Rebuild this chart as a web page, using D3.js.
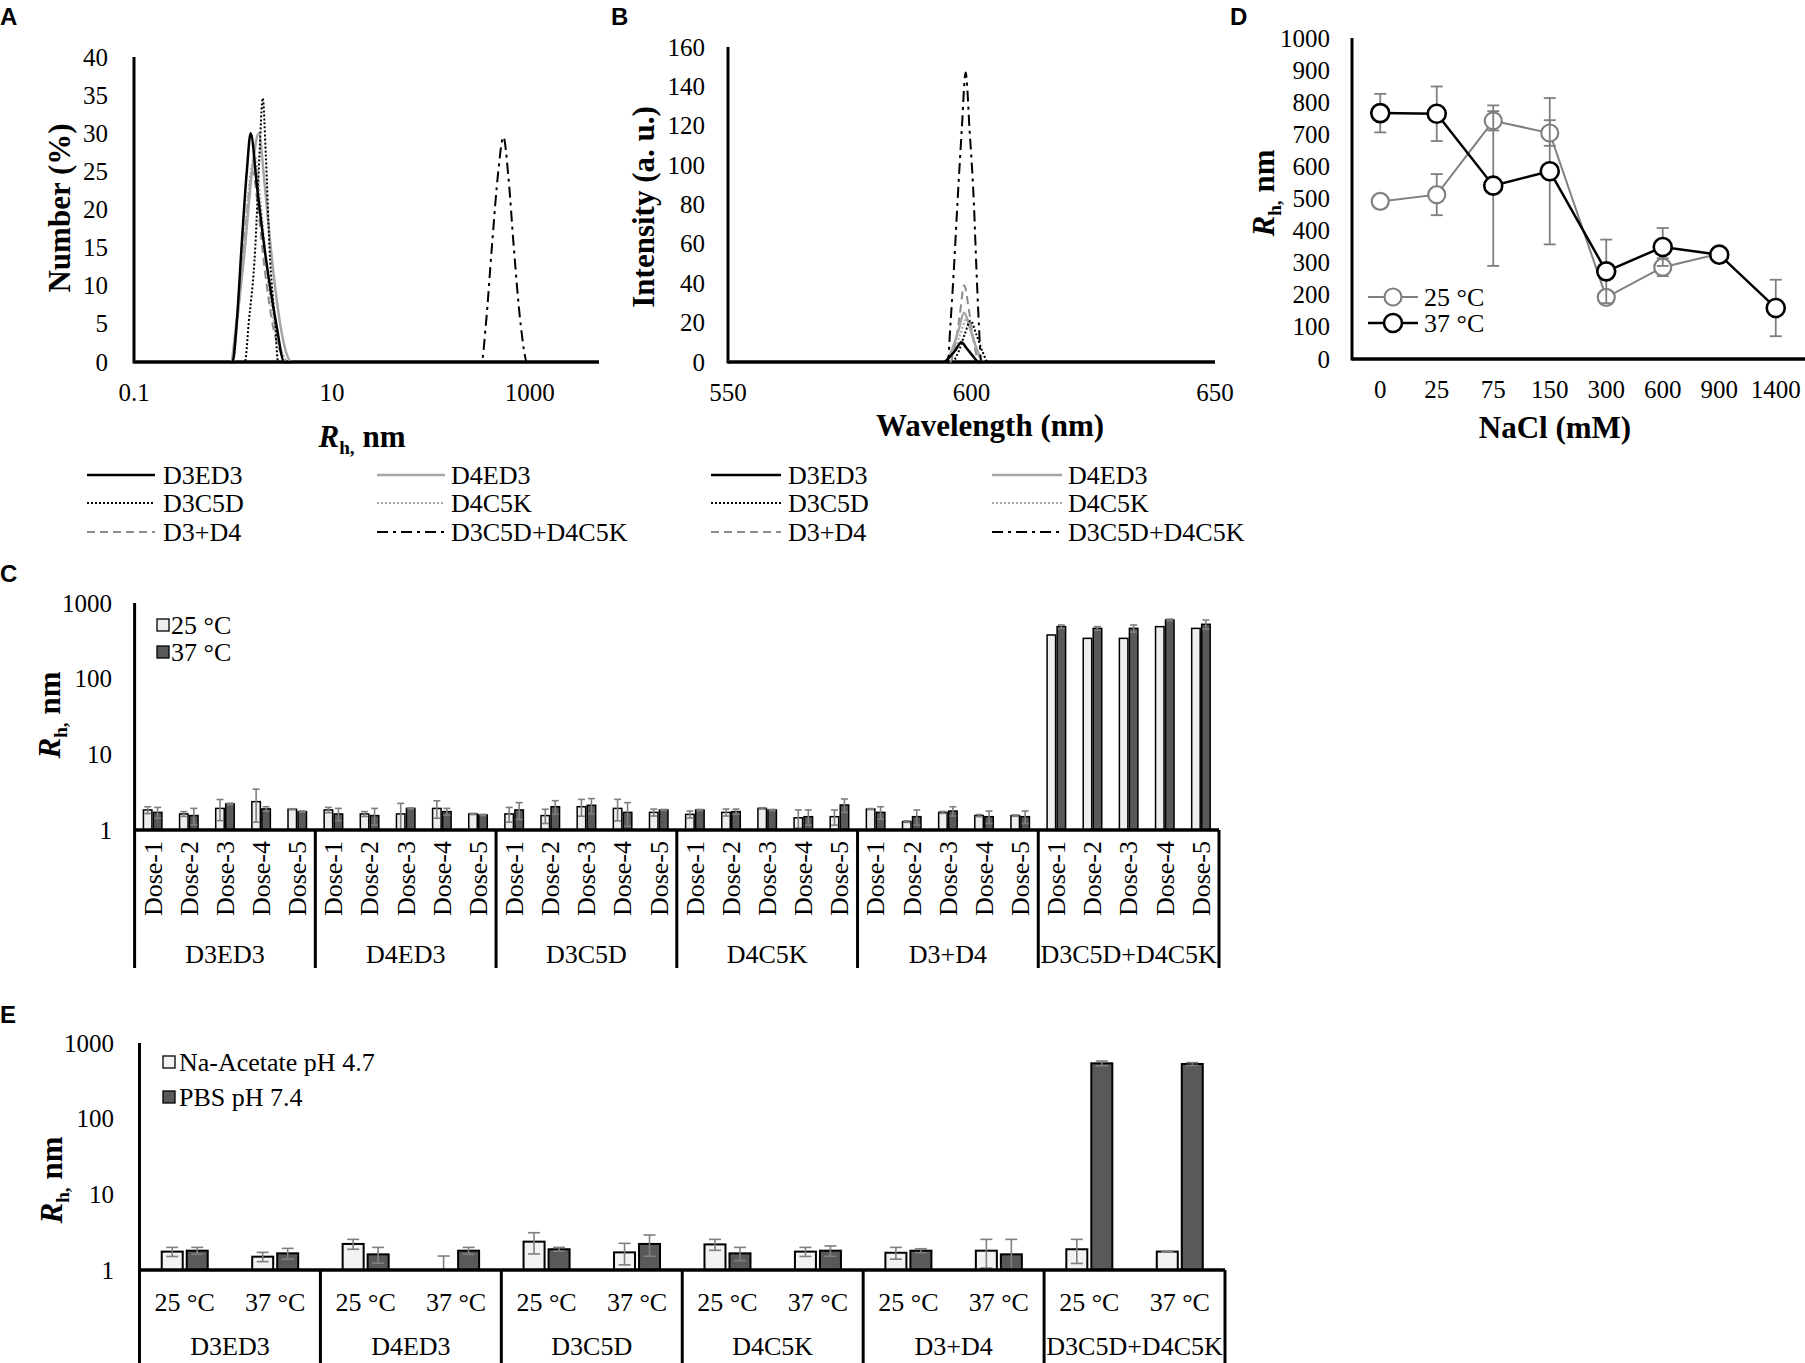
<!DOCTYPE html>
<html><head><meta charset="utf-8">
<script src="https://cdn.jsdelivr.net/npm/d3@7"></script>
<style>
body{margin:0;background:#fff}
svg{display:block}
</style>
</head><body>
<svg id="fig" width="1805" height="1363"></svg>
<script>
// ================= DATA =================
const seriesNames = ["D3ED3","D4ED3","D3C5D","D4C5K","D3+D4","D3C5D+D4C5K"];

// Panel A: number distribution, [Rh (nm), Number (%)]
const aD3ED3 = [[0.1,0],[0.99,0],[1.09,5],[1.22,15],[1.38,25],[1.51,30],[1.75,23],[2.08,15],[2.74,5],[3.3,0],[5000,0]];
const aD4ED3 = [[0.1,0],[0.95,0],[1.08,5],[1.3,14],[1.56,25],[1.82,30],[2.1,23],[2.5,13],[3.0,5],[3.5,1],[3.9,0],[5000,0]];
const aD3C5D = [[0.1,0],[1.32,0],[1.44,5],[1.68,15],[1.85,27],[2.0,34.6],[2.15,27],[2.34,15],[2.67,5],[2.86,0],[5000,0]];
const aD4C5K = [[0.1,0],[1.0,0],[1.12,6],[1.3,16],[1.48,24],[1.66,27],[1.9,21],[2.2,12],[2.7,4],[3.2,1],[3.6,0],[5000,0]];
const aD3D4  = [[0.1,0],[0.97,0],[1.1,5],[1.25,13],[1.42,21],[1.58,25],[1.8,20],[2.1,12],[2.6,4],[3.1,1],[3.5,0],[5000,0]];
const aMix   = [[0.1,0],[325,0],[360,5],[413,15],[480,25],[540,29.5],[610,24],[689,15],[807,5],[940,0],[5000,0]];

// Panel B: fluorescence, [Wavelength (nm), Intensity (a.u.)]
const bD3ED3 = [[550,0],[594.3,0],[595.5,2.5],[596.7,6],[597.9,10],[599,7],[600.3,3],[601.5,0],[650,0]];
const bD4ED3 = [[550,0],[594.6,0],[595.8,5],[597.2,15],[598.5,25],[599.7,17],[601,7],[602.4,0],[650,0]];
const bD3C5D = [[550,0],[596,0],[597.3,5],[598.6,14],[599.8,21],[601,14],[602.3,5],[603.4,0],[650,0]];
const bD4C5K = [[550,0],[595,0],[596.3,5],[597.7,14],[599,22],[600.2,14],[601.4,5],[602.5,0],[650,0]];
const bD3D4  = [[550,0],[595.6,0],[596.6,8],[597.6,24],[598.5,39],[599.5,26],[600.5,10],[601.5,0],[650,0]];
const bMix   = [[550,0],[595.1,0],[595.7,20],[596.4,48],[597.1,80],[598,118],[598.8,147],[599.6,118],[600.5,80],[601,48],[601.5,20],[602,0],[650,0]];

const aTicksY = [0,5,10,15,20,25,30,35,40];
const aTicksX = [0.1,10,1000];
const bTicksY = [0,20,40,60,80,100,120,140,160];
const bTicksX = [550,600,650];

// Panel C: Rh vs dose (log scale)
const cGroups = ["D3ED3","D4ED3","D3C5D","D4C5K","D3+D4","D3C5D+D4C5K"];
const cDoses = ["Dose-1","Dose-2","Dose-3","Dose-4","Dose-5"];
const c25    = [[1.84,1.63,1.93,2.37,1.88],[1.84,1.63,1.63,1.93,1.63],[1.63,1.55,2.03,1.93,1.71],[1.61,1.71,1.93,1.45,1.50],[1.89,1.29,1.71,1.55,1.55],[378,341,341,487,462]];
const c25err = [[0.19,0.12,0.6,1.1,0.03],[0.15,0.12,0.62,0.5,0.03],[0.36,0.33,0.51,0.61,0.18],[0.17,0.18,0.04,0.39,0.34],[0.03,0.03,0.05,0.05,0.03],[0,0,0,0,0]];
const c37    = [[1.71,1.55,2.21,1.90,1.75],[1.63,1.55,1.93,1.75,1.58],[1.84,2.03,2.12,1.71,1.84],[1.84,1.75,1.84,1.50,2.14],[1.71,1.50,1.78,1.50,1.50],[487,462,462,596,523]];
const c37err = [[0.28,0.38,0.05,0.13,0.03],[0.30,0.38,0.03,0.18,0.03],[0.46,0.41,0.48,0.59,0.03],[0.03,0.14,0.03,0.34,0.43],[0.32,0.34,0.25,0.28,0.28],[25,25,50,17,73]];
const logTicks = [1,10,100,1000];

// Panel D: Rh vs NaCl
const dCats  = ["0","25","75","150","300","600","900","1400"];
const d25    = [491,512,742,704,192,286,328,null];
const d25err = [10,64,30,40,15,28,12,null];
const d37    = [766,764,540,585,273,349,325,159];
const d37err = [60,85,250,228,99,59,10,88];
const dTicksY = [0,100,200,300,400,500,600,700,800,900,1000];

// Panel E: Rh vs buffer
const eGroups = ["D3ED3","D4ED3","D3C5D","D4C5K","D3+D4","D3C5D+D4C5K"];
const eTemps  = ["25 °C","37 °C"];
const eAcetate    = [[1.75,1.50],[2.21,1.0],[2.37,1.71],[2.18,1.75],[1.69,1.80],[1.88,1.75]];
const eAcetateErr = [[0.24,0.21],[0.33,0.53],[0.74,0.54],[0.36,0.24],[0.30,0.74],[0.66,0.02]];
const ePBS        = [[1.80,1.66],[1.61,1.80],[1.88,2.21],[1.66,1.80],[1.80,1.61],[539,528]];
const ePBSErr     = [[0.19,0.27],[0.38,0.19],[0.11,0.69],[0.33,0.28],[0.11,0.93],[39,23]];

// ================= DRAWING =================
const SERIF = '"Liberation Serif","Times New Roman",serif';
const SANS = '"Liberation Sans",Arial,sans-serif';
const svg = d3.select("#fig");
svg.append("rect").attr("width",1805).attr("height",1363).attr("fill","#fff");

const TICK = 25, LEG = 26, TITLE = 31;
const styles = {
  "D3ED3":      {stroke:"#000",   w:2.5, dash:null},
  "D4ED3":      {stroke:"#a6a6a6",w:2.5, dash:null},
  "D3C5D":      {stroke:"#000",   w:2,   dash:"2,2"},
  "D4C5K":      {stroke:"#a6a6a6",w:2,   dash:"2,2"},
  "D3+D4":      {stroke:"#8c8c8c",w:2,   dash:"8,5"},
  "D3C5D+D4C5K":{stroke:"#000",   w:2,   dash:"11,5,3,5"}
};

function txt(x,y,s,opts={}){
  const t = svg.append("text").attr("x",x).attr("y",y)
    .attr("font-family",opts.family||SERIF).attr("font-size",opts.size||TICK)
    .attr("text-anchor",opts.anchor||"start").attr("fill","#000").text(s);
  if(opts.bold) t.attr("font-weight","bold");
  return t;
}
function letter(s,x,y){ txt(x,y,s,{family:SANS,size:24,bold:true}); }
function line(x1,y1,x2,y2,w,c){ svg.append("line").attr("x1",x1).attr("y1",y1).attr("x2",x2).attr("y2",y2).attr("stroke",c||"#000").attr("stroke-width",w); }

// title with R_h, nm
function rhText(t){
  const fs = TITLE;
  t.append("tspan").attr("font-style","italic").text("R");
  t.append("tspan").attr("font-size",fs*0.62).attr("dy",fs*0.22).text("h,");
  t.append("tspan").attr("dy",-fs*0.22).text(" nm");
}
function rhTitleH(cx,base){
  const t = svg.append("text").attr("x",cx).attr("y",base).attr("text-anchor","middle")
    .attr("font-family",SERIF).attr("font-size",TITLE).attr("font-weight","bold");
  rhText(t);
}
function rotTitle(cx,cy,str){
  const t = svg.append("text").attr("transform",`translate(${cx},${cy}) rotate(-90)`)
    .attr("x",0).attr("y",TITLE*0.35).attr("text-anchor","middle")
    .attr("font-family",SERIF).attr("font-size",TITLE).attr("font-weight","bold");
  if(str) t.text(str); else rhText(t);
}

// ---------- Panel A ----------
letter("A",0,25);
const xA = d3.scaleLog().domain([0.1,5000]).range([134,599]);
const yA = d3.scaleLinear().domain([0,40]).range([362,57]);
aTicksY.forEach(v=>txt(108,yA(v)+TICK*0.34,v,{anchor:"end"}));
aTicksX.forEach(v=>txt(xA(v),401,v,{anchor:"middle"}));
const aData = {"D3ED3":aD3ED3,"D4ED3":aD4ED3,"D3C5D":aD3C5D,"D4C5K":aD4C5K,"D3+D4":aD3D4,"D3C5D+D4C5K":aMix};
line(xA(0.1),yA(0),xA(5000),yA(0),3.5);
line(xA(0.1),yA(0)+1.5,xA(0.1),yA(40),3);
const lineA = d3.line().x(d=>xA(d[0])).y(d=>yA(d[1])).curve(d3.curveMonotoneX);
["D3+D4","D4C5K","D4ED3","D3C5D","D3ED3","D3C5D+D4C5K"].forEach(n=>{
  const s=styles[n];
  svg.append("path").attr("d",lineA(aData[n])).attr("fill","none").attr("stroke",s.stroke)
    .attr("stroke-width",s.w).attr("stroke-dasharray",s.dash);
});
rotTitle(59,208,"Number (%)");
rhTitleH(362,447);

// ---------- Panel B ----------
letter("B",611,25);
const xB = d3.scaleLinear().domain([550,650]).range([728,1215]);
const yB = d3.scaleLinear().domain([0,160]).range([362,47]);
bTicksY.forEach(v=>txt(705,yB(v)+TICK*0.34,v,{anchor:"end"}));
bTicksX.forEach(v=>txt(xB(v),401,v,{anchor:"middle"}));
const bData = {"D3ED3":bD3ED3,"D4ED3":bD4ED3,"D3C5D":bD3C5D,"D4C5K":bD4C5K,"D3+D4":bD3D4,"D3C5D+D4C5K":bMix};
line(xB(550),yB(0),xB(650),yB(0),3.5);
line(xB(550),yB(0)+1.5,xB(550),yB(160),3);
const lineB = d3.line().x(d=>xB(d[0])).y(d=>yB(d[1])).curve(d3.curveMonotoneX);
["D3+D4","D4C5K","D4ED3","D3C5D","D3ED3","D3C5D+D4C5K"].forEach(n=>{
  const s=styles[n];
  svg.append("path").attr("d",lineB(bData[n])).attr("fill","none").attr("stroke",s.stroke)
    .attr("stroke-width",s.w).attr("stroke-dasharray",s.dash);
});
rotTitle(643,207,"Intensity (a. u.)");
txt(990,436,"Wavelength (nm)",{anchor:"middle",size:TITLE,bold:true});

// ---------- Legends A/B ----------
const legRows = [475,503,532];
const legLeft = ["D3ED3","D3C5D","D3+D4"], legRight = ["D4ED3","D4C5K","D3C5D+D4C5K"];
function legendAB(c1, c2){
  [[legLeft,c1],[legRight,c2]].forEach(([names,c])=>{
    names.forEach((n,i)=>{
      const s=styles[n], y=legRows[i];
      svg.append("line").attr("x1",c[0]).attr("x2",c[1]).attr("y1",y).attr("y2",y)
        .attr("stroke",s.stroke).attr("stroke-width",s.w).attr("stroke-dasharray",s.dash);
      txt(c[2],y+LEG*0.34,n,{size:LEG});
    });
  });
}
legendAB([87,155,163],[377,445,451]);
legendAB([711,781,788],[992,1062,1068]);

// ---------- Panel D ----------
letter("D",1230,25);
const xD = d3.scaleBand().domain(dCats).range([1352,1804]);
const cxD = c=>xD(c)+xD.bandwidth()/2;
const yD = d3.scaleLinear().domain([0,1000]).range([359,38]);
dTicksY.forEach(v=>txt(1330,yD(v)+TICK*0.34,v,{anchor:"end"}));
dCats.forEach(c=>txt(cxD(c),398,c,{anchor:"middle"}));
line(1352,yD(0),1805,yD(0),3.5);
line(1352,yD(0)+1.5,1352,yD(1000),3);
function dSeries(vals,errs,color,lw,r,mw){
  const pts = dCats.map((c,i)=>({c,v:vals[i],e:errs[i]})).filter(p=>p.v!=null);
  pts.forEach(p=>{
    const x=cxD(p.c);
    line(x,yD(p.v-p.e),x,yD(p.v+p.e),1.8,"#7f7f7f");
    line(x-6,yD(p.v+p.e),x+6,yD(p.v+p.e),1.8,"#7f7f7f");
    line(x-6,yD(p.v-p.e),x+6,yD(p.v-p.e),1.8,"#7f7f7f");
  });
  svg.append("path").attr("d",d3.line().x(p=>cxD(p.c)).y(p=>yD(p.v))(pts))
    .attr("fill","none").attr("stroke",color).attr("stroke-width",lw);
  pts.forEach(p=>svg.append("circle").attr("cx",cxD(p.c)).attr("cy",yD(p.v)).attr("r",r)
    .attr("fill","#fff").attr("stroke",color).attr("stroke-width",mw));
}
dSeries(d25,d25err,"#808080",2,8.5,2.2);
dSeries(d37,d37err,"#000",2.5,9,2.6);
[["25 °C","#808080",2,8.5,2.2,297],["37 °C","#000",2.5,9,2.6,323]].forEach(([l,c,lw,r,mw,y])=>{
  line(1368,y,1418,y,lw,c);
  svg.append("circle").attr("cx",1393).attr("cy",y).attr("r",r).attr("fill","#fff").attr("stroke",c).attr("stroke-width",mw);
  txt(1424,y+LEG*0.34,l,{size:LEG});
});
rotTitle(1263,193,null);
txt(1555,438,"NaCl (mM)",{anchor:"middle",size:TITLE,bold:true});

// ---------- Panel C ----------
letter("C",0,582);
const yC = d3.scaleLog().domain([1,1000]).range([830,603]);
const xCg = d3.scaleBand().domain(cGroups).range([134.6,1219]);
const xCi = d3.scaleBand().domain(cDoses).range([0,xCg.bandwidth()]);
logTicks.forEach(v=>txt(112,yC(v)+TICK*0.34,v,{anchor:"end"}));
const bwC = 8.5;
function errBar(x,y,v,e,cap,sc){
  if(!e) return;
  const top=sc(v+e), bot=sc(Math.max(1,v-e));
  line(x,top,x,bot,1.6,"#7f7f7f");
  line(x-cap,top,x+cap,top,1.6,"#7f7f7f");
  if(v-e>1) line(x-cap,bot,x+cap,bot,1.6,"#7f7f7f");
}
cGroups.forEach((g,gi)=>{
  cDoses.forEach((d,di)=>{
    const c = xCg(g)+xCi(d)+xCi.bandwidth()/2;
    const v1=c25[gi][di], v2=c37[gi][di];
    svg.append("rect").attr("x",c-0.75-bwC).attr("y",yC(v1)).attr("width",bwC).attr("height",yC(1)-yC(v1))
      .attr("fill","#eeeeee").attr("stroke","#000").attr("stroke-width",1.5);
    svg.append("rect").attr("x",c+0.75).attr("y",yC(v2)).attr("width",bwC).attr("height",yC(1)-yC(v2))
      .attr("fill","#595959").attr("stroke","#000").attr("stroke-width",1.5);
    errBar(c-0.75-bwC/2,0,v1,c25err[gi][di],3.5,yC);
    errBar(c+0.75+bwC/2,0,v2,c37err[gi][di],3.5,yC);
    svg.append("text").attr("transform",`translate(${c},841) rotate(-90)`).attr("y",LEG*0.34)
      .attr("text-anchor","end").attr("font-family",SERIF).attr("font-size",LEG).text(d);
  });
  txt(xCg(g)+xCg.bandwidth()/2,963,g,{anchor:"middle",size:LEG});
});
line(134.6,yC(1),1219,yC(1),3.5);
line(134.6,yC(1000),134.6,968,3);
cGroups.forEach(g=>line(xCg(g)+xCg.bandwidth(),yC(1),xCg(g)+xCg.bandwidth(),968,3));
[["25 °C","#eeeeee",625],["37 °C","#595959",652]].forEach(([l,f,y])=>{
  svg.append("rect").attr("x",157).attr("y",y-6).attr("width",12).attr("height",12).attr("fill",f).attr("stroke","#000").attr("stroke-width",1.3);
  txt(171,y+LEG*0.34,l,{size:LEG});
});
rotTitle(49,715,null);

// ---------- Panel E ----------
letter("E",0,1023);
const yE = d3.scaleLog().domain([1,1000]).range([1270,1043]);
const xEg = d3.scaleBand().domain(eGroups).range([139.5,1225]);
const xEi = d3.scaleBand().domain(eTemps).range([0,xEg.bandwidth()]);
logTicks.forEach(v=>txt(114,yE(v)+TICK*0.34,v,{anchor:"end"}));
const bwE = 21;
eGroups.forEach((g,gi)=>{
  eTemps.forEach((t,ti)=>{
    const c = xEg(g)+xEi(t)+xEi.bandwidth()/2;
    const v1=eAcetate[gi][ti], v2=ePBS[gi][ti];
    if(v1>1) svg.append("rect").attr("x",c-2-bwE).attr("y",yE(v1)).attr("width",bwE).attr("height",yE(1)-yE(v1))
      .attr("fill","#f2f2f2").attr("stroke","#000").attr("stroke-width",2);
    svg.append("rect").attr("x",c+2).attr("y",yE(v2)).attr("width",bwE).attr("height",yE(1)-yE(v2))
      .attr("fill","#595959").attr("stroke","#000").attr("stroke-width",2);
    errBar(c-2-bwE/2,0,v1,eAcetateErr[gi][ti],6,yE);
    errBar(c+2+bwE/2,0,v2,ePBSErr[gi][ti],6,yE);
    txt(c,1311,t,{anchor:"middle",size:LEG});
  });
  txt(xEg(g)+xEg.bandwidth()/2,1355,g,{anchor:"middle",size:LEG});
});
line(139.5,yE(1),1225,yE(1),3.5);
line(139.5,yE(1000),139.5,1363,3);
eGroups.forEach(g=>line(xEg(g)+xEg.bandwidth(),yE(1),xEg(g)+xEg.bandwidth(),1363,3));
[["Na-Acetate pH 4.7","#f2f2f2",1062],["PBS pH 7.4","#595959",1097]].forEach(([l,f,y])=>{
  svg.append("rect").attr("x",163).attr("y",y-6).attr("width",12).attr("height",12).attr("fill",f).attr("stroke","#000").attr("stroke-width",1.3);
  txt(179,y+LEG*0.34,l,{size:LEG});
});
rotTitle(51,1180,null);
</script>
</body></html>
